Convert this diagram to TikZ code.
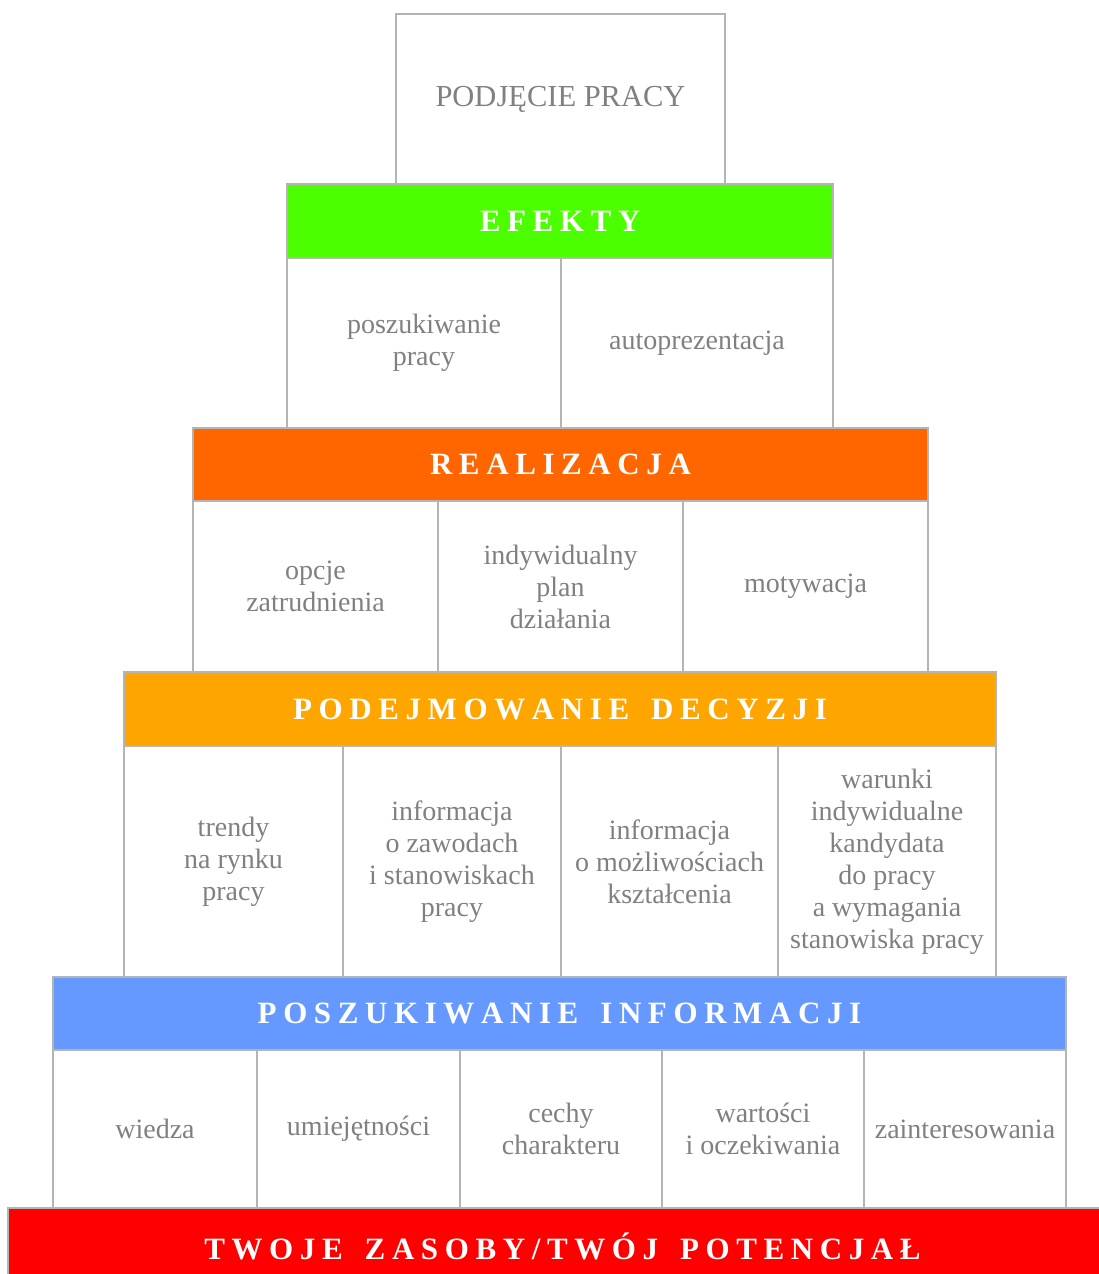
\documentclass[tikz,border=0pt]{standalone}
\usepackage{fontspec}
\setmainfont{Liberation Serif}
\definecolor{edge}{RGB}{180,180,180}
\definecolor{txt}{RGB}{128,128,128}
\definecolor{cgreen}{RGB}{76,255,0}
\definecolor{corange}{RGB}{255,102,0}
\definecolor{camber}{RGB}{255,165,0}
\definecolor{cblue}{RGB}{102,153,255}
\definecolor{cred}{RGB}{255,0,0}
\newdimen\trk
\trk=6.6pt
\def\spcX#1{\ifx#1\relax\else#1\kern\trk\expandafter\spcX\fi}
\newcommand\spc[1]{\spcX#1\relax\kern-\trk}
\newcommand\wgap{\hspace{22pt}}
\begin{document}
\begin{tikzpicture}[x=1pt,y=-1pt,
  box/.style={draw=edge,line width=2.5pt,inner sep=0pt,outer sep=0pt,
    text=txt,align=center,font=\fontsize{28}{32}\selectfont},
  bar/.style={box,text=white,font=\fontsize{31}{34}\selectfont\bfseries}]
\useasboundingbox (0,0) rectangle (1098,1274);
% top
\node[box,minimum width=329pt,minimum height=171pt,font=\fontsize{30.5}{34}\selectfont] (top) at (560.5,99.5) {PODJĘCIE PRACY};
% level 1
\node[bar,fill=cgreen,minimum width=546pt,minimum height=74pt] (efekty) at (560,221) {\spc{EFEKTY}};
\node[box,minimum width=274pt,minimum height=170pt] (c11) at (424,343) {poszukiwanie\\pracy};
\node[box,minimum width=272pt,minimum height=170pt] (c12) at (697,343) {autoprezentacja};
% level 2
\node[bar,fill=corange,minimum width=735pt,minimum height=73pt] (real) at (560.5,464.5) {\spc{REALIZACJA}};
\node[box,minimum width=245pt,minimum height=171pt] (c21) at (315.5,586.5) {opcje\\zatrudnienia};
\node[box,minimum width=245pt,minimum height=171pt] (c22) at (560.5,586.5) {indywidualny\\plan\\działania};
\node[box,minimum width=245pt,minimum height=171pt] (c23) at (805.5,586.5) {motywacja};
% level 3
\node[bar,fill=camber,minimum width=872pt,minimum height=74pt] (decyz) at (560,709) {\spc{PODEJMOWANIE}\wgap\spc{DECYZJI}};
\node[box,minimum width=219pt,minimum height=231pt] (c31) at (233.5,861.5) {trendy\\na rynku\\pracy};
\node[box,minimum width=218pt,minimum height=231pt] (c32) at (452,861.5) {informacja\\o zawodach\\i stanowiskach\\pracy};
\node[box,minimum width=217pt,minimum height=231pt] (c33) at (669.5,861.5) {informacja\\o możliwościach\\kształcenia};
\node[box,minimum width=218pt,minimum height=231pt] (c34) at (887,861.5) {warunki\\indywidualne\\kandydata\\do pracy\\a wymagania\\stanowiska pracy};
% level 4
\node[bar,fill=cblue,minimum width=1013pt,minimum height=73pt] (info) at (559.5,1013.5) {\spc{POSZUKIWANIE}\wgap\spc{INFORMACJI}};
\node[box,minimum width=204pt,minimum height=158pt] (c41) at (155,1129) {wiedza};
\node[box,minimum width=203pt,minimum height=158pt] (c42) at (358.5,1129) {umiejętności};
\node[box,minimum width=202pt,minimum height=158pt] (c43) at (561,1129) {cechy\\charakteru};
\node[box,minimum width=202pt,minimum height=158pt] (c44) at (763,1129) {wartości\\i oczekiwania};
\node[box,minimum width=202pt,minimum height=158pt] (c45) at (965,1129) {zainteresowania};
% base
\node[bar,fill=cred,minimum width=1102pt,minimum height=82pt] (base) at (559,1249) {};
\node[text=white,font=\fontsize{31}{34}\selectfont\bfseries,inner sep=0pt] (basetxt) at (562.5,1246.5) {\spc{TWOJE}\wgap\spc{ZASOBY/TWÓJ}\wgap\spc{POTENCJAŁ}};
\end{tikzpicture}
\end{document}
